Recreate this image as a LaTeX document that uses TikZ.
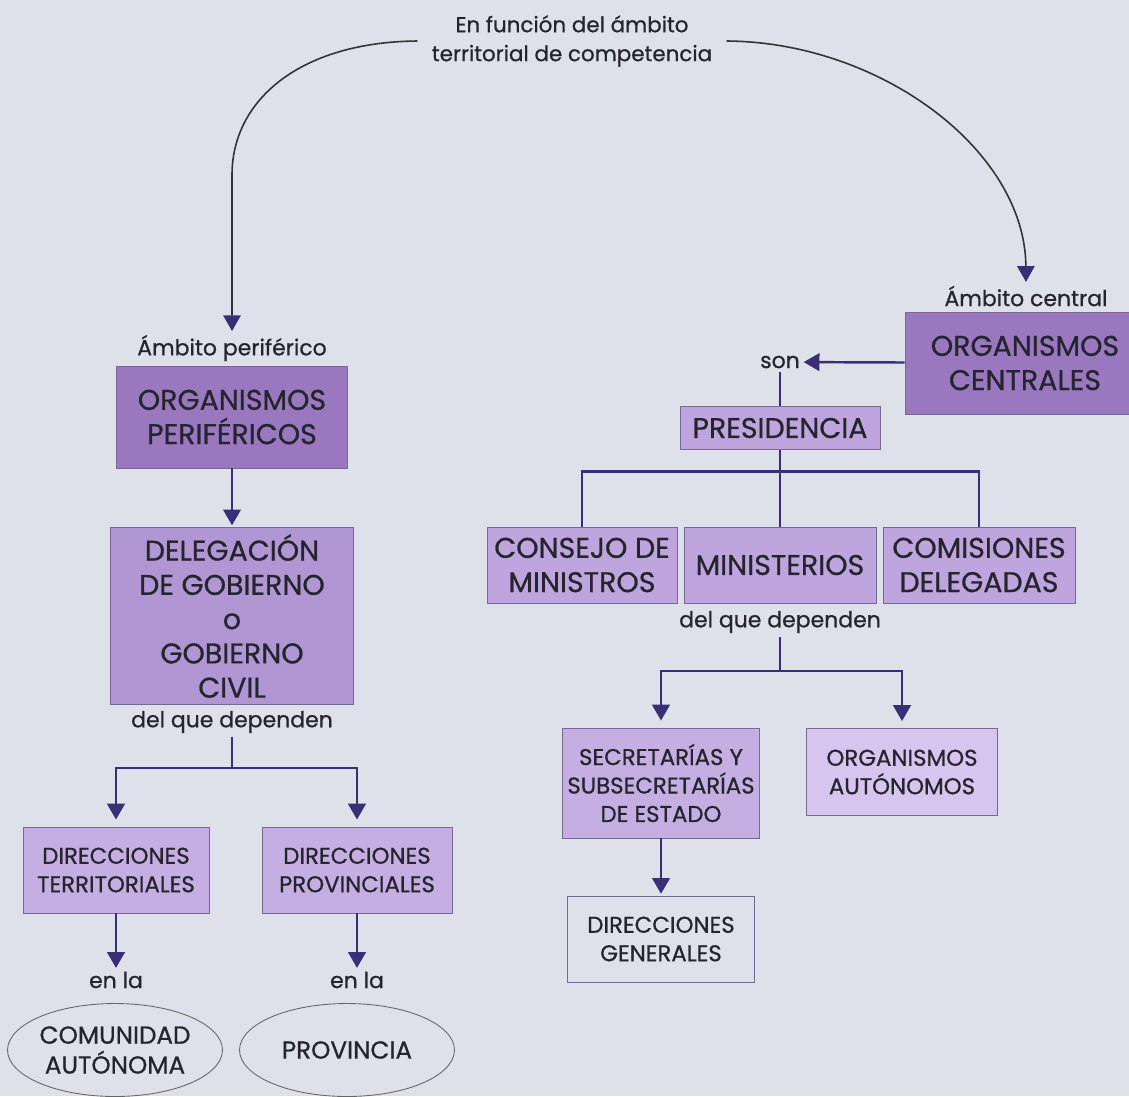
\documentclass[tikz,border=0pt]{standalone}
\usepackage{fontspec}
\setmainfont{Poppins}[FakeBold=0.7]
\usetikzlibrary{arrows.meta,shapes.geometric}

\definecolor{fondo}{RGB}{222,225,233}
\definecolor{tinta}{RGB}{38,36,46}
\definecolor{linea}{RGB}{58,46,118}
\definecolor{borde}{RGB}{120,104,150}
\definecolor{morado1}{RGB}{153,120,192}
\definecolor{morado2}{RGB}{177,150,212}
\definecolor{morado3}{RGB}{190,165,222}
\definecolor{morado4}{RGB}{197,175,226}
\definecolor{morado5}{RGB}{214,197,238}

\tikzset{
  caja/.style={draw=borde,line width=0.5pt,align=center,text=tinta,inner sep=0pt},
  grande/.style={caja,font=\fontsize{16.2}{19.5}\selectfont},
  chica/.style={caja,font=\fontsize{13}{16.2}\selectfont},
  etiqueta/.style={text=tinta,align=center,font=\fontsize{12.5}{16.5}\selectfont,inner sep=2pt},
  flecha/.style={draw=linea,line width=1.4pt,-{Triangle[width=10pt,length=9pt]}},
  union/.style={draw=linea,line width=1.4pt},
  curva/.style={draw=black!80,line width=0.9pt,-{Triangle[width=10pt,length=9pt,color=linea]}},
}

\begin{document}
\begin{tikzpicture}[x=0.02cm,y=-0.02cm]
 		\path[use as bounding box,fill=fondo] (0,0) rectangle (1129,1096);

 		\node[etiqueta,inner xsep=8pt,font=\fontsize{12.2}{16.5}\selectfont] (ambito) at (572,41) {En función del ámbito\\territorial de competencia};

 		% rama periferica
 		\node[etiqueta] (ambperif) at (232,348) {Ámbito periférico};
 		\node[grande,fill=morado1,minimum width=4.62cm,minimum height=2.04cm] (perif) at (232,417) {ORGANISMOS\\PERIFÉRICOS};
 		\node[grande,fill=morado2,minimum width=4.86cm,minimum height=3.54cm] (deleg) at (232,616) {DELEGACIÓN\\DE GOBIERNO\\o\\GOBIERNO\\CIVIL};
 		\node[etiqueta] (dep1) at (232,722) {del que dependen};
 		\coordinate (split1) at (232,768);
 		\node[chica,fill=morado4,minimum width=3.72cm,minimum height=1.72cm] (dirterr) at (116,870) {DIRECCIONES\\TERRITORIALES};
 		\node[chica,fill=morado4,minimum width=3.8cm,minimum height=1.72cm] (dirprov) at (357,870) {DIRECCIONES\\PROVINCIALES};
 		\node[etiqueta] (enla1) at (116,980) {en la};
 		\node[etiqueta] (enla2) at (357,980) {en la};
 		\node[caja,ellipse,draw=black!60,font=\fontsize{14}{17}\selectfont,minimum width=4.3cm,minimum height=1.86cm] (comunidad) at (115,1050) {COMUNIDAD\\AUTÓNOMA};
 		\node[caja,ellipse,draw=black!60,font=\fontsize{14}{17}\selectfont,minimum width=4.3cm,minimum height=1.86cm] (provincia) at (347,1050) {PROVINCIA};

 		% rama central
 		\node[etiqueta] (ambcentral) at (1026,296) {Ámbito central};
 		\node[grande,fill=morado1,minimum width=4.8cm,minimum height=2.04cm] (centrales) at (1025,363) {ORGANISMOS\\CENTRALES};
 		\node[etiqueta] (son) at (780,362) {son};
 		\node[grande,fill=morado3,minimum width=4cm,minimum height=0.86cm] (pres) at (780,428) {PRESIDENCIA};
 		\node[grande,fill=morado3,minimum width=3.8cm,minimum height=1.52cm] (consejo) at (582,565) {CONSEJO DE\\MINISTROS};
 		\node[grande,fill=morado3,minimum width=3.84cm,minimum height=1.52cm] (minis) at (780,565) {MINISTERIOS};
 		\node[grande,fill=morado3,minimum width=3.84cm,minimum height=1.52cm] (comis) at (979,565) {COMISIONES\\DELEGADAS};
 		\node[etiqueta] (dep2) at (780,622) {del que dependen};
 		\coordinate (split2) at (780,671);
 		\node[chica,fill=morado4,minimum width=3.94cm,minimum height=2.2cm] (secret) at (661,783) {SECRETARÍAS Y\\SUBSECRETARÍAS\\DE ESTADO};
 		\node[chica,fill=morado5,minimum width=3.82cm,minimum height=1.74cm] (autonom) at (902,772) {ORGANISMOS\\AUTÓNOMOS};
 		\node[chica,minimum width=3.74cm,minimum height=1.72cm] (dirgen) at (661,939) {DIRECCIONES\\GENERALES};

 		\draw[curva] (ambito.west) .. controls (300,42) and (232,100) .. (232,175) -- (ambperif.north);
 		\draw[curva] (ambito.east) .. controls (880,42) and (1025,150) .. (ambcentral.north);

 		\draw[flecha,shorten >=1pt] (perif) -- (deleg);
 		\draw[flecha,shorten >=4pt] (dep1.south) -- (split1) -| (dirterr.north);
 		\draw[flecha,shorten >=4pt] (split1) -| (dirprov.north);
 		\draw[flecha] (dirterr) -- (enla1);
 		\draw[flecha] (dirprov) -- (enla2);

 		\draw[flecha] (centrales) -- (son);
 		\draw[union] (son) -- (pres);
 		\draw[union] (pres) -- (minis);
 		\draw[union] (consejo.north) -- ++(0,-55) -| (comis.north);
 		\draw[flecha,shorten >=4pt] (dep2.south) -- (split2) -| (secret.north);
 		\draw[flecha,shorten >=4pt] (split2) -| (autonom.north);
 		\draw[flecha,shorten >=1pt] (secret) -- (dirgen);
\end{tikzpicture}
\end{document}
